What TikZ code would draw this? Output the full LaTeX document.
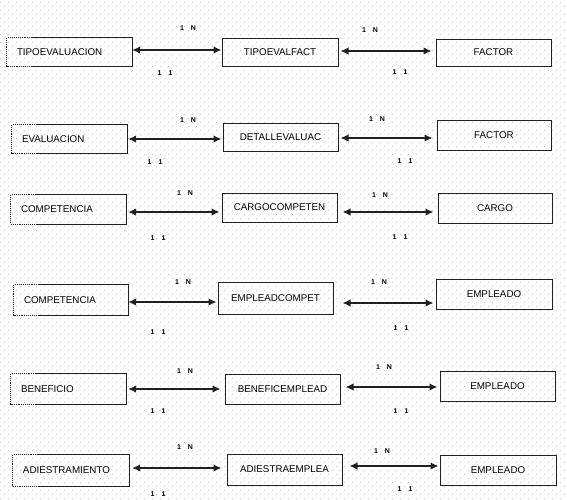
\documentclass[tikz,border=0pt]{standalone}
\usepackage{fontspec}
\setmainfont{Liberation Sans}
\usetikzlibrary{arrows.meta,calc}
\definecolor{boxc}{HTML}{202020}
\definecolor{txtc}{HTML}{000000}
\definecolor{dotc}{HTML}{C4C4C4}
\newcommand{\leftoutline}[1]{%
  \draw[boxc, line width=1.1pt] ($(#1.north west)+(25,0)$) -- (#1.north east) -- (#1.south east) -- ($(#1.south west)+(25,0)$);
  \draw[boxc, line width=1.1pt, densely dotted] ($(#1.north west)+(25,0)$) -- (#1.north west) -- (#1.south west) -- ($(#1.south west)+(25,0)$);}
\begin{document}
\begin{tikzpicture}[x=1pt,y=-1pt,
  ent/.style n args={2}{draw=boxc, line width=1pt, minimum width=#1, minimum height=#2,
    inner sep=0pt, font=\fontsize{9.8}{11}\selectfont, text=txtc},
  lent/.style n args={2}{draw=none, text width=#1, minimum height=#2, inner xsep=10pt,
    inner ysep=0pt, align=left, font=\fontsize{9.8}{11}\selectfont, text=txtc},
  arr/.style={{Latex[length=8pt,width=7.5pt]}-{Latex[length=8pt,width=7.5pt]}, line width=1.3pt, draw=boxc},
  card/.style={font=\bfseries\fontsize{7}{8}\selectfont, text=txtc, inner sep=0pt},
  griddots/.style={draw=dotc, line width=1pt, dash pattern=on 1pt off 7pt}
]
\useasboundingbox (0,0) rectangle (567,499);
\fill[white] (0,0) rectangle (567,499);
% background dot grid
\foreach \yy in {2,10,...,498} \draw[griddots] (0,\yy) -- (567,\yy);
\foreach \yy in {6,14,...,498} \draw[griddots, dash phase=4pt] (0,\yy) -- (567,\yy);

% Row 1
\node[lent={105pt}{28pt}] (L1) at (69.5,52) {TIPOEVALUACION};
\node[ent={116pt}{28pt}] (M1) at (280,52) {TIPOEVALFACT};
\node[ent={115pt}{27pt}] (R1) at (493.5,52.5) {FACTOR};
\leftoutline{L1}
\draw[arr] (L1.east |- 0,50) -- (M1.west |- 0,50);
\draw[arr, shorten <=2pt, shorten >=4pt] (M1.east |- 0,51) -- (R1.west |- 0,51);
\node[card] (c1a) at (188,28) {1\hspace{7pt}N};
\node[card] (c1b) at (165,73) {1\hspace{7pt}1};
\node[card] (c1c) at (370,30) {1\hspace{7pt}N};
\node[card] (c1d) at (400,72) {1\hspace{7pt}1};

% Row 2
\node[lent={95pt}{28pt}] (L2) at (69.5,139) {EVALUACION};
\node[ent={115pt}{28pt}] (M2) at (280.5,137) {DETALLEVALUAC};
\node[ent={114pt}{30pt}] (R2) at (494,135) {FACTOR};
\leftoutline{L2}
\draw[arr, shorten <=1pt, shorten >=1pt] (L2.east |- 0,139) -- (M2.west |- 0,139);
\draw[arr, shorten <=2pt, shorten >=4pt] (M2.east |- 0,138) -- (R2.west |- 0,138);
\node[card] (c2a) at (188,120) {1\hspace{7pt}N};
\node[card] (c2b) at (155,162) {1\hspace{7pt}1};
\node[card] (c2c) at (377,119) {1\hspace{7pt}N};
\node[card] (c2d) at (405,161) {1\hspace{7pt}1};

% Row 3
\node[lent={95pt}{29pt}] (L3) at (68.5,209.5) {COMPETENCIA};
\node[ent={115pt}{29pt}] (M3) at (279.5,207.5) {CARGOCOMPETEN};
\node[ent={114pt}{30pt}] (R3) at (495,208) {CARGO};
\leftoutline{L3}
\draw[arr, shorten <=2pt, shorten >=2pt] (L3.east |- 0,212) -- (M3.west |- 0,212);
\draw[arr, shorten <=5pt, shorten >=4pt] (M3.east |- 0,212) -- (R3.west |- 0,212);
\node[card] (c3a) at (185,193) {1\hspace{7pt}N};
\node[card] (c3b) at (158,238) {1\hspace{7pt}1};
\node[card] (c3c) at (380,195) {1\hspace{7pt}N};
\node[card] (c3d) at (400,237) {1\hspace{7pt}1};

% Row 4
\node[lent={94pt}{30pt}] (L4) at (71,300) {COMPETENCIA};
\node[ent={115pt}{32pt}] (M4) at (275.5,298) {EMPLEADCOMPET};
\node[ent={116pt}{30pt}] (R4) at (494,294) {EMPLEADO};
\leftoutline{L4}
\draw[arr, shorten >=1pt] (L4.east |- 0,302) -- (M4.west |- 0,302);
\draw[arr, shorten <=9pt, shorten >=2pt] (M4.east |- 0,303) -- (R4.west |- 0,303);
\node[card] (c4a) at (183,282) {1\hspace{7pt}N};
\node[card] (c4b) at (158,332) {1\hspace{7pt}1};
\node[card] (c4c) at (379,282) {1\hspace{7pt}N};
\node[card] (c4d) at (401,328) {1\hspace{7pt}1};

% Row 5
\node[lent={95pt}{30pt}] (L5) at (68.5,389) {BENEFICIO};
\node[ent={115pt}{30pt}] (M5) at (282.5,389) {BENEFICEMPLEAD};
\node[ent={115pt}{30pt}] (R5) at (497.5,386) {EMPLEADO};
\leftoutline{L5}
\draw[arr, shorten <=2pt, shorten >=4pt] (L5.east |- 0,389) -- (M5.west |- 0,389);
\draw[arr, shorten <=5pt, shorten >=2pt] (M5.east |- 0,387) -- (R5.west |- 0,387);
\node[card] (c5a) at (185,371) {1\hspace{7pt}N};
\node[card] (c5b) at (158,411) {1\hspace{7pt}1};
\node[card] (c5c) at (384,367) {1\hspace{7pt}N};
\node[card] (c5d) at (401,411) {1\hspace{7pt}1};

% Row 6
\node[lent={96pt}{31pt}] (L6) at (71,470.5) {ADIESTRAMIENTO};
\node[ent={115pt}{31pt}] (M6) at (284.5,469.5) {ADIESTRAEMPLEA};
\node[ent={116pt}{30pt}] (R6) at (498,470) {EMPLEADO};
\leftoutline{L6}
\draw[arr, shorten <=3pt, shorten >=5pt] (L6.east |- 0,468) -- (M6.west |- 0,468);
\draw[arr, shorten <=7pt, shorten >=1pt] (M6.east |- 0,466) -- (R6.west |- 0,466);
\node[card] (c6a) at (185,447) {1\hspace{7pt}N};
\node[card] (c6b) at (158,494) {1\hspace{7pt}1};
\node[card] (c6c) at (382,451) {1\hspace{7pt}N};
\node[card] (c6d) at (405,489) {1\hspace{7pt}1};
\end{tikzpicture}
\end{document}
